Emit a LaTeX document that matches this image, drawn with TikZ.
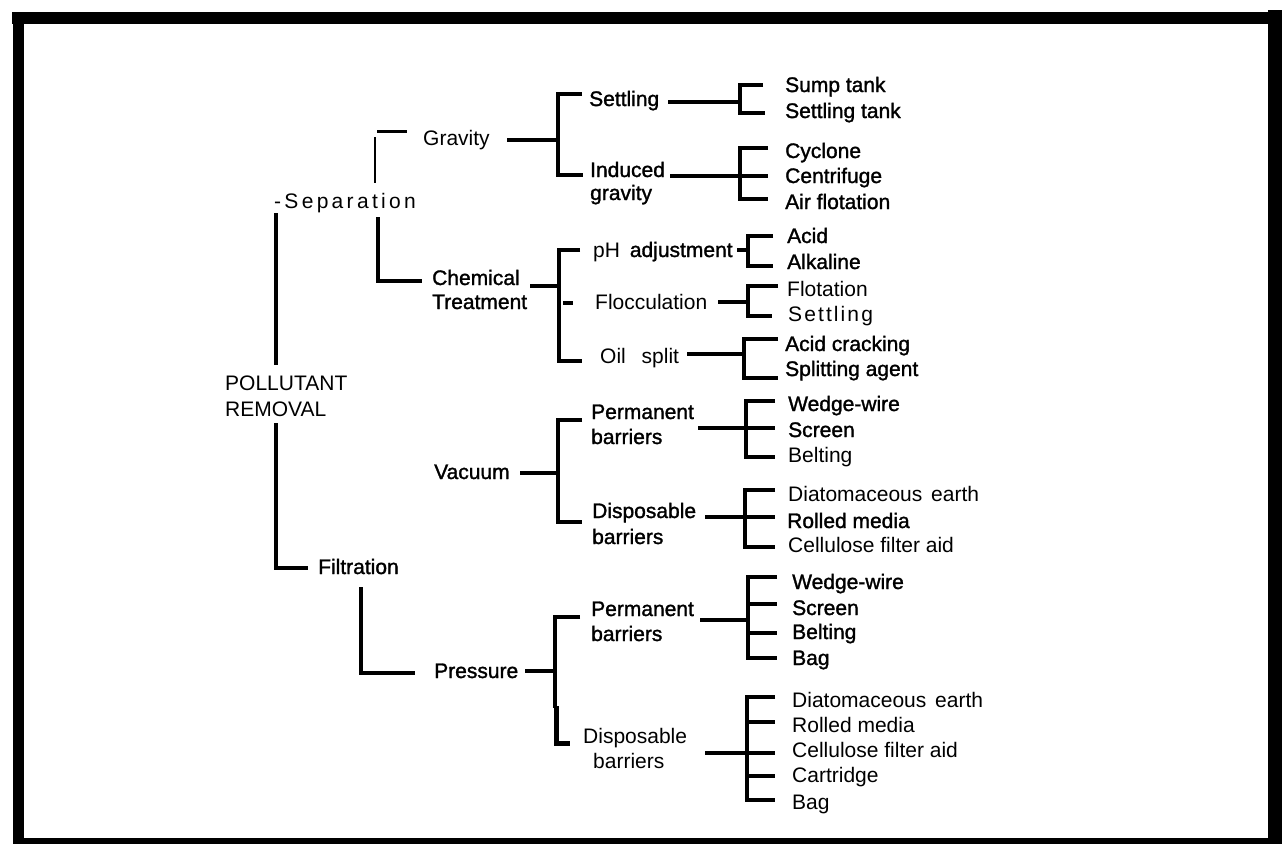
\documentclass[tikz,border=0pt]{standalone}
\usepackage{fontspec}
\setmainfont{Liberation Sans}[BoldFont={Liberation Sans},BoldFeatures={FakeBold=1.4}]
\newcommand\ks{\kern3.3pt}
\newcommand\kt{\kern2.1pt}
\begin{document}
\begin{tikzpicture}[x=1pt,y=-1pt,
  lbl/.style={anchor=base west,inner sep=0pt,font=\fontsize{21}{25}\selectfont},
  hv/.style={anchor=base west,inner sep=0pt,font=\fontsize{21}{25}\selectfont\bfseries},
  br/.style={line width=3.5pt,line join=miter},
  thn/.style={line width=2pt},
  frame/.style={fill=black}]
\useasboundingbox (0,0) rectangle (1282,844);
% frame
\fill[frame] (12,12) rectangle (1282,24);
\fill[frame] (13,12) rectangle (24,844);
\fill[frame] (1268,10) rectangle (1282,844);
\fill[frame] (13,838) rectangle (1282,844);

% ---- labels ----
\node[lbl] (sep) at (274,208) {-\ks S\ks e\ks p\ks a\ks r\ks a\ks t\ks i\ks o\ks n};
\node[lbl] (pol1) at (225,390) {POLLUTANT};
\node[lbl] (pol2) at (225,416) {REMOVAL};
\node[hv] (filt) at (318,574) {Filtration};
\node[lbl] (grav) at (423,145) {Gravity};
\node[hv] (chem1) at (432,285) {Chemical};
\node[hv] (chem2) at (432,309) {Treatment};
\node[hv] (settl) at (589,106) {Settling};
\node[hv] (ind1) at (590,177) {Induced};
\node[hv] (ind2) at (590,200) {gravity};
\node[hv] (sump) at (785,92) {Sump tank};
\node[hv] (stank) at (785,118) {Settling tank};
\node[hv] (cyc) at (785,158) {Cyclone};
\node[hv] (cent) at (785,183) {Centrifuge};
\node[hv] (air) at (785,209) {Air flotation};
\node[lbl] (ph) at (593,257) {pH\hspace{4pt} \bfseries adjustment};
\node[hv] (acid) at (787,243) {Acid};
\node[hv] (alk) at (787,269) {Alkaline};
\node[lbl] (floc) at (595,309) {Flocculation};
\node[lbl] (flot) at (787,296) {Flotation};
\node[lbl] (setf) at (788,321) {S\kt e\kt t\kt t\kt l\kt i\kt n\kt g};
\node[lbl] (oil) at (600,363) {Oil\hspace{10pt} split};
\node[hv] (acr) at (785,351) {Acid cracking};
\node[hv] (spl) at (785,376) {Splitting agent};
\node[hv] (vac) at (434,479) {Vacuum};
\node[hv] (pv1) at (591,419) {Permanent};
\node[hv] (pv2) at (591,444) {barriers};
\node[hv] (ww1) at (788,411) {Wedge-wire};
\node[hv] (scr1) at (788,437) {Screen};
\node[lbl] (belt1) at (788,462) {Belting};
\node[hv] (dv1) at (592,518) {Disposable};
\node[hv] (dv2) at (592,544) {barriers};
\node[lbl] (dia1) at (788,501) {Diatomaceous\hspace{3pt} earth};
\node[hv] (rol1) at (787,528) {Rolled media};
\node[lbl] (cel1) at (788,552) {Cellulose filter aid};
\node[hv] (pres) at (434,678) {Pressure};
\node[hv] (pp1) at (591,616) {Permanent};
\node[hv] (pp2) at (591,641) {barriers};
\node[hv] (ww2) at (792,589) {Wedge-wire};
\node[hv] (scr2) at (792,615) {Screen};
\node[hv] (belt2) at (792,639) {Belting};
\node[hv] (bag1) at (792,665) {Bag};
\node[lbl] (dp1) at (583,743) {Disposable};
\node[lbl] (dp2) at (593,768) {barriers};
\node[lbl] (dia2) at (792,707) {Diatomaceous\hspace{3pt} earth};
\node[lbl] (rol2) at (792,732) {Rolled media};
\node[lbl] (cel2) at (792,757) {Cellulose filter aid};
\node[lbl] (cart) at (792,782) {Cartridge};
\node[lbl] (bag2) at (792,809) {Bag};

% ---- connectors ----
% root
\draw[line width=4pt] (276,213) -- (276,365);
\draw[line width=4pt,line join=miter] (276,423) -- (276,568) -- (308,568);
% separation
\draw[thn] (375,137) -- (375,183);
\draw[line width=3pt] (377,131) -- (407,131);
\draw[br] (378,217) -- (378,281) -- (422,281);
% gravity
\draw[br] (507,140) -- (558,140);
\draw[br] (582,94) -- (558,94) -- (558,175) -- (583,175);
% settling
\draw[br] (668,102) -- (740,102);
\draw[br] (763,85) -- (740,85) -- (740,113) -- (765,113);
% induced gravity
\draw[br] (670,176) -- (768,176);
\draw[br] (768,148) -- (740,148) -- (740,199) -- (768,199);
% chemical treatment
\draw[br] (530,286) -- (559,286);
\draw[br] (580,250) -- (559,250) -- (559,361) -- (582,361);
\draw[br] (563,303) -- (573,303);
% pH
\draw[br] (737,250) -- (748,250);
\draw[br] (773,236) -- (748,236) -- (748,266) -- (773,266);
% flocculation
\draw[br] (718,302) -- (748,302);
\draw[br] (778,286) -- (748,286) -- (748,316) -- (772,316);
% oil split
\draw[br] (687,354) -- (744,354);
\draw[br] (778,339) -- (744,339) -- (744,378) -- (778,378);
% vacuum
\draw[br] (520,473) -- (558,473);
\draw[br] (582,420) -- (558,420) -- (558,522) -- (582,522);
% permanent (vacuum)
\draw[br] (698,428) -- (775,428);
\draw[br] (775,401) -- (746,401) -- (746,457) -- (775,457);
% disposable (vacuum)
\draw[br] (705,517) -- (775,517);
\draw[br] (775,490) -- (745,490) -- (745,547) -- (775,547);
% filtration
\draw[br] (361,587) -- (361,673) -- (415,673);
% pressure
\draw[br] (525,671) -- (555,671);
\draw[br] (580,617) -- (555,617) -- (555,708);
\draw[line width=5pt,line join=miter] (556,706) -- (556,743) -- (570,743);
% permanent (pressure)
\draw[br] (700,620) -- (748,620);
\draw[br] (777,577) -- (748,577) -- (748,658) -- (777,658);
\draw[br] (748,604) -- (777,604);
\draw[br] (748,633) -- (777,633);
% disposable (pressure)
\draw[br] (705,753) -- (775,753);
\draw[line width=4.5pt,line join=miter] (775,697) -- (747,697) -- (747,800) -- (775,800);
\draw[br] (747,722) -- (775,722);
\draw[br] (747,776) -- (775,776);
\end{tikzpicture}
\end{document}
